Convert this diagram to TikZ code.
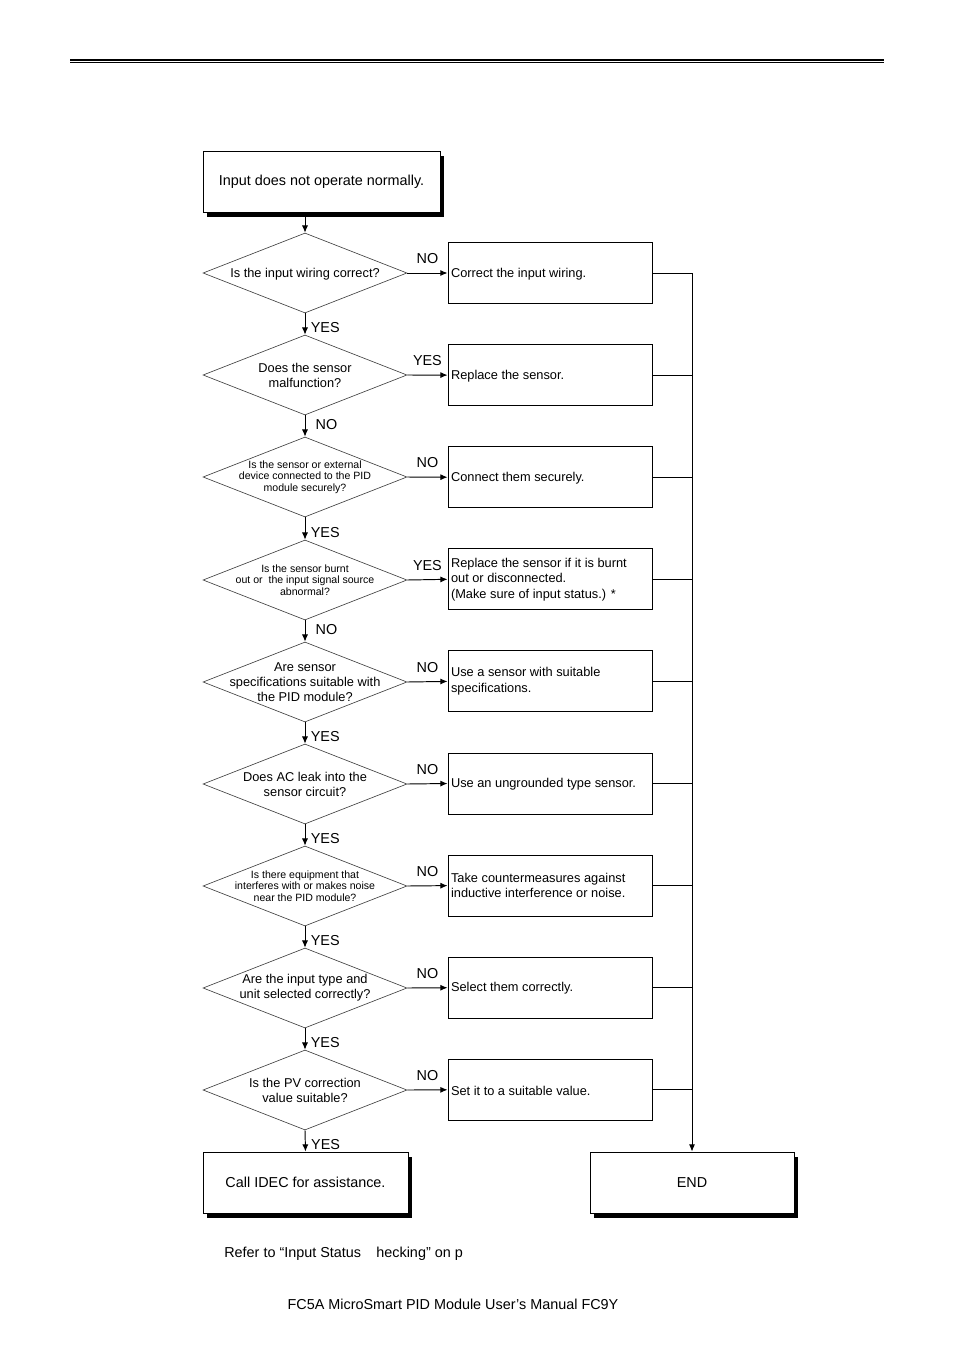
\documentclass[tikz,border=0pt]{standalone}
\usepackage{fontspec}
\setmainfont{Liberation Sans}
\usetikzlibrary{arrows.meta, positioning, shapes.geometric, shadows}
\tikzset{>={Latex[length=4.5pt,width=3.8pt]}}
\tikzset{
  question/.style={diamond, draw=black!75, line width=0.4pt, minimum width=127.5pt, minimum height=50pt, inner sep=0pt},
  qtext/.style={align=center, inner sep=0pt, font=\fontsize{8}{9.4}\selectfont},
  qsmall/.style={align=center, inner sep=0pt, font=\fontsize{6.6}{7.2}\selectfont},
  action/.style={draw, line width=0.6pt, minimum width=127.5pt, minimum height=38.1pt},
  atext/.style={align=left, anchor=west, inner sep=0pt, font=\fontsize{8}{9.7}\selectfont},
  terminal/.style={draw, fill=white, line width=0.6pt, minimum height=38.1pt, font=\fontsize{9}{11}\selectfont,
    drop shadow={shadow xshift=2.5pt, shadow yshift=-3pt, fill=black, opacity=1}},
  answer/.style={font=\fontsize{9}{11}\selectfont},
}

\begin{document}
\begin{tikzpicture}[x=0.625pt, y=-0.625pt]
  \useasboundingbox (0,0) rectangle (954,1350);

  % Double rule at the top of the page
  \draw[line width=0.8pt] (70,60) -- (884,60);
  \draw[line width=0.5pt] (70,62.8) -- (884,62.8);

  % Start and end boxes
  \node[terminal, minimum width=148.1pt] (start) at (321.5,181.5) {Input does not operate normally.};
  \node[terminal, minimum width=128.1pt] (help) at (305.5,1182.5) {Call IDEC for assistance.};
  \node[terminal, minimum width=127.5pt] (done) at (692,1182.5) {END};

  % Questions
  \node[question] (q1) at (305,273) {};
  \node[qtext] (q1t) at ([yshift=-0.5pt]q1) {Is the input wiring correct?};
  \node[question] (q2) at (305,375) {};
  \node[qtext] (q2t) at (q2) {Does the sensor\\malfunction?};
  \node[question] (q3) at (305,477) {};
  \node[qsmall] (q3t) at (q3) {Is the sensor or external\\device connected to the PID\\module securely?};
  \node[question] (q4) at (305,580) {};
  \node[qsmall] (q4t) at (q4) {Is the sensor burnt\\out or\ \ the input signal source\\abnormal?};
  \node[question] (q5) at (305,682) {};
  \node[qtext] (q5t) at (q5) {Are sensor\\specifications suitable with\\the PID module?};
  \node[question] (q6) at (305,784) {};
  \node[qtext] (q6t) at (q6) {Does AC leak into the\\sensor circuit?};
  \node[question] (q7) at (305,886) {};
  \node[qsmall] (q7t) at (q7) {Is there equipment that\\interferes with or makes noise\\near the PID module?};
  \node[question] (q8) at (305,988) {};
  \node[qtext] (q8t) at (q8) {Are the input type and\\unit selected correctly?};
  \node[question] (q9) at (305,1090) {};
  \node[qtext] (q9t) at (q9) {Is the PV correction\\value suitable?};

  % Remedies
  \foreach \i in {1,...,9} {
    \node[action] (a\i) at (550,273+102.1*\i-102.1) {};
  }
  \node[atext] (a1t) at ([xshift=2pt,yshift=-0.5pt]a1.west) {Correct the input wiring.};
  \node[atext] (a2t) at ([xshift=2pt,yshift=-0.5pt]a2.west) {Replace the sensor.};
  \node[atext] (a3t) at ([xshift=2pt,yshift=-0.5pt]a3.west) {Connect them securely.};
  \node[atext] (a4t) at ([xshift=2pt]a4.west) {Replace the sensor if it is burnt\\out or disconnected.\\(Make sure of input status.) *};
  \node[atext] (a5t) at ([xshift=2pt]a5.west) {Use a sensor with suitable\\specifications.};
  \node[atext] (a6t) at ([xshift=2pt,yshift=-0.5pt]a6.west) {Use an ungrounded type sensor.};
  \node[atext] (a7t) at ([xshift=2pt]a7.west) {Take countermeasures against\\inductive interference or noise.};
  \node[atext] (a8t) at ([xshift=2pt,yshift=-0.5pt]a8.west) {Select them correctly.};
  \node[atext] (a9t) at ([xshift=2pt,yshift=-0.5pt]a9.west) {Set it to a suitable value.};

  % Main line down
  \draw[->, line width=0.6pt] (start.south -| q1.north) -- (q1.north);
  \foreach \a/\b/\lab/\p/\dx in {q1/q2/YES/0.66/0pt, q2/q3/NO/0.45/3pt, q3/q4/YES/0.66/0pt, q4/q5/NO/0.45/3pt,
      q5/q6/YES/0.66/0pt, q6/q7/YES/0.66/0pt, q7/q8/YES/0.66/0pt, q8/q9/YES/0.66/0pt, q9/help/YES/0.66/0pt} {
    \draw[->, line width=0.6pt] (\a.south) -- (\b.north) node[pos=\p, right, xshift=\dx, answer] {\lab};
  }

  % Branches to the right
  \foreach \i/\lab in {1/NO, 2/YES, 3/NO, 4/YES, 5/NO, 6/NO, 7/NO, 8/NO, 9/NO} {
    \draw[->, line width=0.6pt] (q\i.east) -- (a\i.west) node[midway, above=2pt, answer] {\lab};
    \draw[line width=0.6pt] (a\i.east) -- (a\i.east -| done.north);
  }
  \draw[->, line width=0.6pt] (a1.east -| done.north) -- (done.north);

  % Footnote and footer
  \node[anchor=west, answer, inner sep=0pt] (note) at (224,1254) {Refer to “Input Status\hspace{7pt} hecking” on p};
  \node[answer, inner sep=0pt] (footer) at (453,1304) {FC5A MicroSmart PID Module User’s Manual FC9Y};
\end{tikzpicture}
\end{document}
